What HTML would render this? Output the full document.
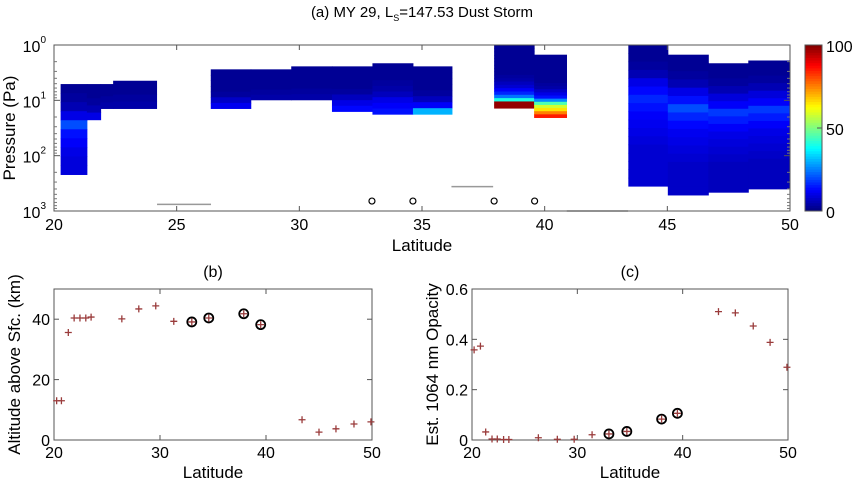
<!DOCTYPE html>
<html><head><meta charset="utf-8"><style>
body{margin:0;background:#fff;}
svg{display:block;font-family:"Liberation Sans",sans-serif;}
</style></head><body>
<svg id="fig" width="857" height="491" viewBox="0 0 857 491"></svg>
<script>
// ---- data: panel (a) heatmap columns ----
const colLat0 = [20.27,21.34,21.9,22.41,26.39,28.02,29.67,31.33,32.98,34.63,37.94,39.57,43.41,45.02,46.67,48.3];
const colLat1 = [21.34,21.9,22.41,24.18,28.02,29.67,31.33,32.98,34.63,36.22,39.57,40.89,45.02,46.67,48.3,50];
const colTopLog = [0.706,0.706,0.706,0.646,0.44,0.44,0.386,0.386,0.33,0.386,0,0.175,0,0.175,0.33,0.28];
const colBotLog = [2.34,1.35,1.147,1.147,1.147,0.99,0.99,1.2,1.25,1.25,1.14,1.31,2.55,2.71,2.66,2.6];
const colValues = [
 [2,3,5,10,20,14,12,10,9,9],
 [2,2,3,5,10],
 [2,2,3,4],
 [2,2,3,4],
 [2,2,2,2,3,7,11],
 [2,2,2,2,3,4],
 [2,2,2,2,3,4],
 [2,2,2,2,3,6,10,13],
 [2,2,2,3,4,6,10,12,14],
 [2,2,2,2,3,6,12,30],
 [2,2,2,2,2,2,2,2,2,3,4,6,8,12,16,24,40,98,98],
 [2,2,2,2,2,2,2,2,2,3,4,7,10,14,26,45,58,65,75,85],
 [2,2,3,5,10,13,16,14,12,11,10,9,8,8,8,8,8],
 [2,2,3,5,10,14,20,16,13,11,10,9,8,7,7,7,7],
 [2,2,3,5,9,12,18,15,12,10,9,8,7,6,6,6,6],
 [2,2,3,5,9,12,18,15,12,10,9,8,7,6,6,6,6]
];
const surfLat0 = [24.2,36.2,40.9];
const surfLat1 = [26.4,37.9,43.4];
const surfLog = [2.88,2.56,3.0];
const circleLat = [32.96,34.63,37.94,39.59];
const circleLog = [2.82,2.82,2.82,2.82];
const xTicksA = [20,25,30,35,40,45,50];
// ---- panel (b) ----
const latB = [20.25,20.7,21.35,21.9,22.45,23,23.5,26.4,28.0,29.6,31.3,33.0,34.6,37.9,39.5,43.4,45.0,46.6,48.3,49.9];
const altB = [13,13,35.6,40.4,40.4,40.4,40.7,40.1,43.4,44.4,39.3,39.1,40.4,41.8,38.2,6.7,2.6,3.7,5.3,6.0];
const circledB = [0,0,0,0,0,0,0,0,0,0,0,1,1,1,1,0,0,0,0,0];
// ---- panel (c) ----
const latC = [20.2,20.8,21.3,21.9,22.4,23,23.5,26.3,28.1,29.7,31.4,33.0,34.7,38.0,39.5,43.4,45.0,46.7,48.3,49.9];
const opC = [0.358,0.373,0.032,0.004,0.004,0.002,0.002,0.009,0.003,0.003,0.021,0.024,0.034,0.083,0.106,0.51,0.505,0.453,0.388,0.289];
const circledC = [0,0,0,0,0,0,0,0,0,0,0,1,1,1,1,0,0,0,0,0];
const xTicksBC = [20,30,40,50];
const yTicksB = [0,20,40];
const yTicksC = [0,0.2,0.4,0.6];
const yTickLabelsC = ["0","0.2","0.4","0.6"];

const NS="http://www.w3.org/2000/svg";
const svg=document.getElementById('fig');
function mk(tag,attrs,parent){const e=document.createElementNS(NS,tag);for(const k in attrs)e.setAttribute(k,attrs[k]);(parent||svg).appendChild(e);return e;}
function jet(v){let t=Math.max(0,Math.min(1,v/100));
 const f=(x)=>Math.max(0,Math.min(1,x));
 const r=f(1.5-Math.abs(4*t-3)),g=f(1.5-Math.abs(4*t-2)),b=f(1.5-Math.abs(4*t-1));
 return `rgb(${Math.round(r*255)},${Math.round(g*255)},${Math.round(b*255)})`;}

// panel A axes
const A={x0:54,x1:790,y0:45,y1:211};
const xA=l=>A.x0+(l-20)/30*(A.x1-A.x0);
const yA=lg=>A.y0+lg/3*(A.y1-A.y0);
const tA=mk('text',{x:422,y:17,'font-size':15,'text-anchor':'middle'});

tA.innerHTML='(a) MY 29, L<tspan font-size="9" dy="4">S</tspan><tspan dy="-4">=147.53 Dust Storm</tspan>';
const gH=mk('g',{});

colValues.forEach((vals,i)=>{
 const n=vals.length,t=colTopLog[i],b=colBotLog[i];
 vals.forEach((v,k)=>{
  const ya=yA(t+(b-t)*k/n),yb=yA(t+(b-t)*(k+1)/n);
  const r=mk('rect',{x:xA(colLat0[i]),y:ya,width:xA(colLat1[i])-xA(colLat0[i])+0.5,height:yb-ya+0.5,fill:jet(v)},gH);
  
 });
});
surfLat0.forEach((l,i)=>{const e=mk('line',{x1:xA(l),x2:xA(surfLat1[i]),y1:yA(surfLog[i]),y2:yA(surfLog[i]),stroke:'#999','stroke-width':1.5});
 });
circleLat.forEach((l,i)=>{const e=mk('circle',{cx:xA(l),cy:yA(circleLog[i]),r:3,fill:'none',stroke:'#000','stroke-width':1.2});
 });
const fA=mk('rect',{x:A.x0,y:A.y0,width:A.x1-A.x0,height:A.y1-A.y0,fill:'none',stroke:'#555','stroke-width':1});

xTicksA.forEach(v=>{const x=xA(v);mk('line',{x1:x,x2:x,y1:A.y1,y2:A.y1-5,stroke:'#555'});mk('line',{x1:x,x2:x,y1:A.y0,y2:A.y0+5,stroke:'#555'});
 const t=mk('text',{x:x,y:A.y1+19,'font-size':16,'text-anchor':'middle'});t.textContent=v;
 });
for(let d=0;d<=3;d++){const y=yA(d);mk('line',{x1:A.x0,x2:A.x0+6,y1:y,y2:y,stroke:'#555'});mk('line',{x1:A.x1,x2:A.x1-6,y1:y,y2:y,stroke:'#555'});
 if(d<3)for(let m=2;m<10;m++){const ym=yA(d+Math.log10(m));mk('line',{x1:A.x0,x2:A.x0+3,y1:ym,y2:ym,stroke:'#777'});mk('line',{x1:A.x1,x2:A.x1-3,y1:ym,y2:ym,stroke:'#777'});}
 const t=mk('text',{x:A.x0-8,y:y+7,'font-size':16,'text-anchor':'end'});t.innerHTML='10<tspan font-size="10" dy="-9">'+d+'</tspan>';
 }
let t=mk('text',{x:422,y:251,'font-size':17,'text-anchor':'middle'});t.textContent='Latitude';
t=mk('text',{x:0,y:0,'font-size':17,'text-anchor':'middle',transform:'translate(15,128) rotate(-90)'});t.textContent='Pressure (Pa)';
// colorbar
const gC=mk('g',{});
for(let k=0;k<64;k++){const v=100-(k+0.5)*100/64;mk('rect',{x:805,y:45+k*166/64,width:17,height:166/64+0.5,fill:jet(v)},gC);}
mk('rect',{x:805,y:45,width:17,height:166,fill:'none',stroke:'#555'},gC);
[[100,45],[50,128],[0,211]].forEach(([v,y])=>{const e=mk('text',{x:826,y:y+7,'font-size':16},gC);e.textContent=v;mk('line',{x1:817,x2:822,y1:y,y2:y,stroke:'#555'},gC);});

// scatter panels
function scatter(P,lats,vals,circ,ymax,yt,ytl,label,ytitle,ytx,name){
 const xs=l=>P.x0+(l-20)/30*(P.x1-P.x0), ys=v=>P.y1-v/ymax*(P.y1-P.y0);
 const g=mk('g',{});
 const f=mk('rect',{x:P.x0,y:P.y0,width:P.x1-P.x0,height:P.y1-P.y0,fill:'none',stroke:'#555'},g);
 xTicksBC.forEach(v=>{const x=xs(v);mk('line',{x1:x,x2:x,y1:P.y1,y2:P.y1-5,stroke:'#555'},g);mk('line',{x1:x,x2:x,y1:P.y0,y2:P.y0+5,stroke:'#555'},g);
  const e=mk('text',{x:x,y:P.y1+18,'font-size':16,'text-anchor':'middle'},g);e.textContent=v;});
 yt.forEach((v,i)=>{const y=ys(v);mk('line',{x1:P.x0,x2:P.x0+5,y1:y,y2:y,stroke:'#555'},g);mk('line',{x1:P.x1,x2:P.x1-5,y1:y,y2:y,stroke:'#555'},g);
  const e=mk('text',{x:P.x0-4,y:y+6,'font-size':16,'text-anchor':'end'},g);e.textContent=ytl[i];});
 lats.forEach((l,i)=>{const x=xs(l),y=ys(vals[i]);
  if(circ[i]){const c=mk('circle',{cx:x,cy:y,r:4.5,fill:'none',stroke:'#000','stroke-width':1.8},g);}
  const p=mk('path',{d:`M${x-3.5},${y}H${x+3.5}M${x},${y-3.5}V${y+3.5}`,stroke:'#9a3b3b','stroke-width':1.3},g);
  });
 let e=mk('text',{x:(P.x0+P.x1)/2,y:P.y0-12,'font-size':16,'text-anchor':'middle'},g);e.textContent=label;
 e=mk('text',{x:(P.x0+P.x1)/2,y:P.y1+38,'font-size':17,'text-anchor':'middle'},g);e.textContent='Latitude';
 e=mk('text',{x:0,y:0,'font-size':17,'text-anchor':'middle',transform:`translate(${ytx},${(P.y0+P.y1)/2}) rotate(-90)`},g);e.textContent=ytitle;
}
scatter({x0:54,x1:372,y0:289,y1:440},latB,altB,circledB,50,yTicksB,yTicksB.map(String),'(b)','Altitude above Sfc. (km)',20,'altitude-panel');
scatter({x0:472,x1:788,y0:289,y1:440},latC,opC,circledC,0.6,yTicksC,yTickLabelsC,'(c)','Est. 1064 nm Opacity',438,'opacity-panel');
</script>
</body></html>
